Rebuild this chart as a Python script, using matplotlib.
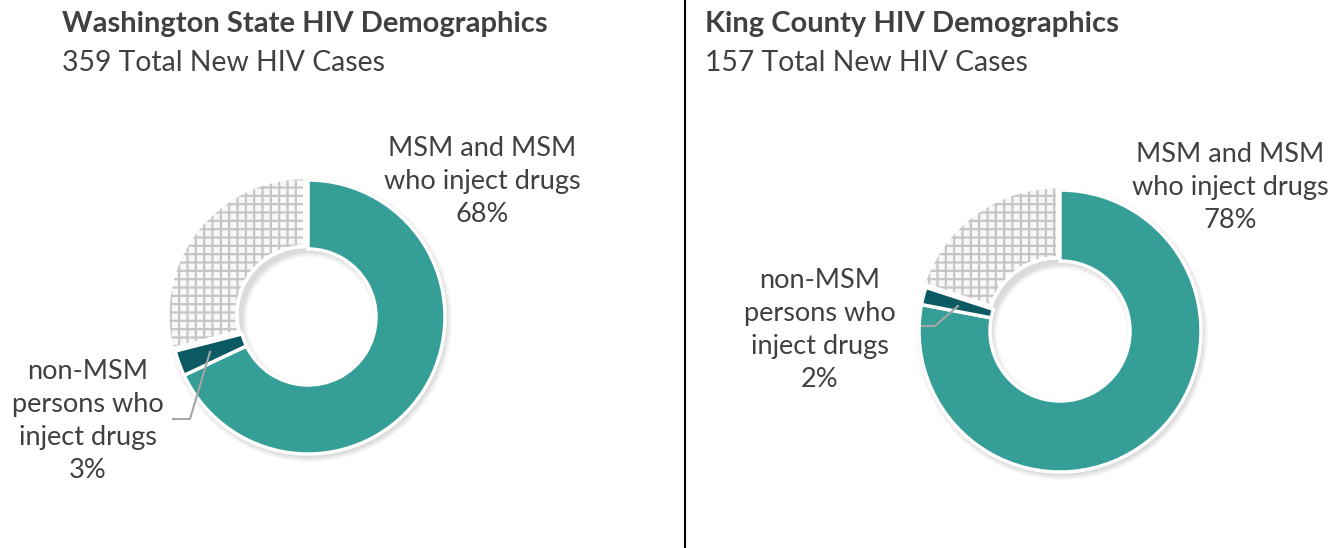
import math
import matplotlib.pyplot as plt
from matplotlib.patches import Wedge

W, H = 1338, 548

titles = ["Washington State HIV Demographics", "King County HIV Demographics"]
subtitles = ["359 Total New HIV Cases", "157 Total New HIV Cases"]
categories = ["MSM and MSM who inject drugs", "non-MSM persons who inject drugs", "Other"]
wa_values = [68, 3, 29]
kc_values = [78, 2, 20]

TEAL = "#359E96"
DARK_TEAL = "#0B5A63"
GREY = "#C6C6C6"
TEXT = "#404040"

plt.rcParams["font.family"] = ["Lato", "DejaVu Sans"]
plt.rcParams["hatch.linewidth"] = 1.6

fig = plt.figure(figsize=(W / 100, H / 100), dpi=100)
ax = fig.add_axes([0, 0, 1, 1])
ax.set_xlim(0, W)
ax.set_ylim(H, 0)
ax.axis("off")


def donut(values, cx, cy, r, inner, explode):
    # soft shadow under the ring
    for k in range(6):
        ax.add_patch(Wedge((cx + 2, cy + 3), r + k, 0, 360, width=r - inner + 2 * k,
                           facecolor="black", edgecolor="none", alpha=0.025, zorder=1))
    # y axis is inverted, so increasing angle goes clockwise on screen
    start = -90.0
    total = sum(values)
    colors = [TEAL, DARK_TEAL, "#F8F8F8"]
    for i, v in enumerate(values):
        span = 360.0 * v / total
        a0, a1 = start, start + span
        mid = math.radians((a0 + a1) / 2)
        ox, oy = 0.0, 0.0
        if i == 2:
            ox, oy = explode * math.cos(mid), explode * math.sin(mid)
        c = (cx + ox, cy + oy)
        ax.add_patch(Wedge(c, r, a0, a1, width=r - inner, facecolor=colors[i],
                           edgecolor="white", linewidth=2.5, zorder=2))
        if i == 2:
            ax.add_patch(Wedge(c, r, a0, a1, width=r - inner, facecolor="none",
                               edgecolor=GREY, linewidth=0, hatch="++", zorder=3))
            ax.add_patch(Wedge(c, r, a0, a1, width=r - inner, facecolor="none",
                               edgecolor="white", linewidth=2.5, zorder=4))
        start = a1


donut(wa_values, 308, 317, 137, 68, 4)
donut(kc_values, 1060, 331, 141, 70, 4)

# titles
for x, t, s in [(62, titles[0], subtitles[0]), (705, titles[1], subtitles[1])]:
    ax.text(x, 24, t, fontsize=21, fontweight="bold", color=TEXT, va="center", ha="left")
    ax.text(x, 63, s, fontsize=20.4, color=TEXT, va="center", ha="left")

# divider
ax.plot([685, 685], [0, H], color="black", linewidth=1.5)

# labels
lab = dict(fontsize=19.5, color=TEXT, ha="center", va="center", linespacing=1.4)
ax.text(482, 181, f"MSM and MSM\nwho inject drugs\n{wa_values[0]}%", **lab)
ax.text(88, 421, f"non-MSM\npersons who\ninject drugs\n{wa_values[1]}%", **lab)
ax.plot([210, 190, 173], [352, 419, 419], color="#A6A6A6", linewidth=1.5, zorder=5)

ax.text(1230, 188, f"MSM and MSM\nwho inject drugs\n{kc_values[0]}%", **lab)
ax.text(820, 330, f"non-MSM\npersons who\ninject drugs\n{kc_values[1]}%", **lab)
ax.plot([958, 935, 922], [306, 326, 326], color="#A6A6A6", linewidth=1.5, zorder=5)

fig.savefig("out.png", dpi=100)
